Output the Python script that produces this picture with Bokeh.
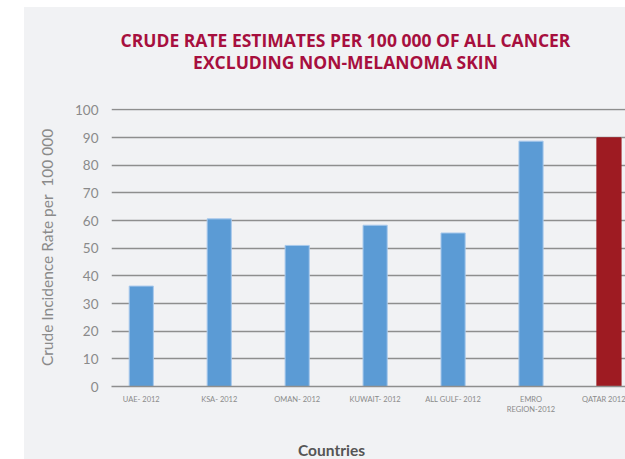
from bokeh.plotting import figure
from bokeh.layouts import column
from bokeh.models import Range1d, FixedTicker, ColumnDataSource
from bokeh.core.properties import value
from bokeh.embed import file_html
from bokeh.resources import INLINE

# Crude incidence rate per 100 000, all cancer excluding non-melanoma skin
countries = ["UAE- 2012", "KSA- 2012", "OMAN- 2012", "KUWAIT- 2012",
             "ALL GULF- 2012", "EMRO\nREGION-2012", "QATAR 2012"]
rates = [36.3, 60.6, 51.0, 58.3, 55.5, 88.7, 89.9]
colors = ["#5b9bd5", "#5b9bd5", "#5b9bd5", "#5b9bd5", "#5b9bd5", "#5b9bd5", "#9e1b22"]
edges = ["#a8c9ec", "#a8c9ec", "#a8c9ec", "#a8c9ec", "#a8c9ec", "#a8c9ec", "#9e1b22"]
y_ticks = [0, 10, 20, 30, 40, 50, 60, 70, 80, 90, 100]
title_lines = ["CRUDE RATE ESTIMATES PER 100 000 OF ALL CANCER",
               "EXCLUDING NON-MELANOMA SKIN"]
x_title = "Countries"
y_title = "Crude Incidence Rate per\u00a0 100 000"

BG = "#f1f2f4"
GRID = "#8e8e8e"
FONT = "Lato"
TITLE_COLOR = "#a70f3e"
W = 601
LEFT = 87


def text_panel(height):
    """Transparent strip whose data units are the figure's own pixels."""
    f = figure(width=W, height=height, output_backend="svg", toolbar_location=None,
               x_range=Range1d(LEFT, W), y_range=Range1d(0, height),
               x_axis_location=None, y_axis_location=None,
               min_border_left=LEFT, min_border_right=0, min_border_top=0,
               min_border_bottom=0, background_fill_color=None,
               border_fill_color=None, outline_line_color=None)
    f.xgrid.visible = False
    f.ygrid.visible = False
    return f


# heading strip
header = text_panel(90)
header.text(x=[321, 321], y=[58, 36], text=title_lines,
            text_align="center", text_baseline="middle",
            text_font=value("Open Sans"), text_font_style="bold",
            text_font_size="17.5px", text_color=TITLE_COLOR)

# bar chart
positions = list(range(len(countries)))
source = ColumnDataSource(dict(x=positions, top=rates, color=colors, edge=edges))

p = figure(width=W, height=329, output_backend="svg", toolbar_location=None,
           x_range=Range1d(-0.382, 6.212), y_range=Range1d(0, 100.5),
           min_border_left=LEFT, min_border_right=0, min_border_top=11,
           min_border_bottom=40, background_fill_color=None,
           border_fill_color=None, outline_line_color=None)

p.vbar(x="x", top="top", width=0.31, bottom=0, fill_color="color",
       line_color="edge", line_width=1, source=source)

p.xgrid.visible = False
p.ygrid.ticker = FixedTicker(ticks=y_ticks)
p.ygrid.grid_line_color = GRID
p.ygrid.grid_line_width = 1.5

p.yaxis.ticker = FixedTicker(ticks=y_ticks)
p.yaxis.axis_line_color = None
p.yaxis.major_tick_line_color = None
p.yaxis.minor_tick_line_color = None
p.yaxis.major_label_text_font = FONT
p.yaxis.major_label_text_font_size = "13.5px"
p.yaxis.major_label_text_color = "#8a8a8a"
p.yaxis.major_label_standoff = 7
p.yaxis.axis_label = y_title
p.yaxis.axis_label_text_font = FONT
p.yaxis.axis_label_text_font_style = "normal"
p.yaxis.axis_label_text_font_size = "15.5px"
p.yaxis.axis_label_text_color = "#8a8a8a"
p.yaxis.axis_label_standoff = 16

p.xaxis.ticker = FixedTicker(ticks=positions)
p.xaxis.major_label_overrides = {i: c for i, c in zip(positions, countries)}
p.xaxis.axis_line_color = GRID
p.xaxis.axis_line_width = 1.5
p.xaxis.major_tick_line_color = None
p.xaxis.minor_tick_line_color = None
p.xaxis.major_label_text_font = FONT
p.xaxis.major_label_text_font_size = "7.5px"
p.xaxis.major_label_text_color = "#8a8a8a"
p.xaxis.major_label_standoff = 2

# x axis title strip
footer = text_panel(33)
footer.text(x=[307], y=[10], text=[x_title], text_align="center",
            text_baseline="middle", text_font=value(FONT), text_font_style="bold",
            text_font_size="15.5px", text_color="#555555")

page = column(header, p, footer, spacing=0, margin=(7, 0, 0, 24),
              styles={"background-color": BG})
open("out.html", "w").write(file_html(page, INLINE))
